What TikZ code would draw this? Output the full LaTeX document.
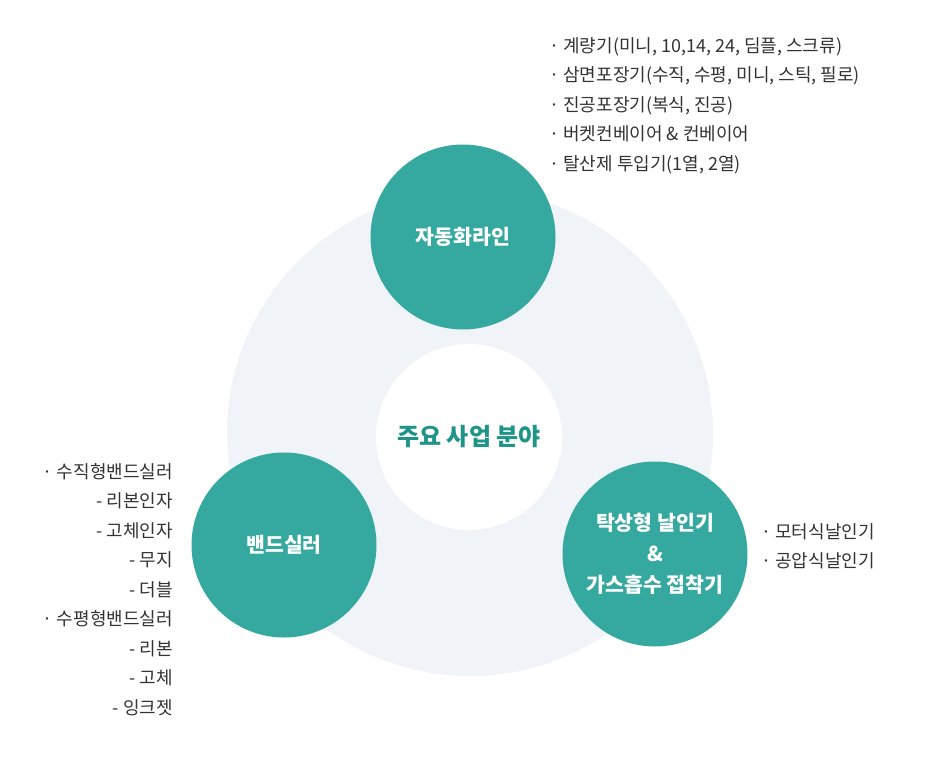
\documentclass[tikz,border=0pt]{standalone}
\usepackage{fontspec}
\setmainfont{Noto Sans CJK KR}
\usetikzlibrary{positioning}

\definecolor{fieldteal}{HTML}{35A9A0}
\definecolor{ringbg}{HTML}{F0F3F8}
\definecolor{titleteal}{HTML}{1E9488}
\definecolor{listgray}{HTML}{333333}

\begin{document}
\begin{tikzpicture}[x=1pt, y=-1pt,
    field/.style={circle, fill=fieldteal, minimum size=185pt, inner sep=0pt,
      text=white, align=center, font=\fontsize{20.5}{31}\selectfont\bfseries},
    itemlist/.style={inner sep=0pt, text=listgray, font=\fontsize{18}{29.5}\selectfont}]
    \useasboundingbox (0,0) rectangle (950,765);

    \node (ring) [circle, fill=ringbg, minimum size=486pt] at (470,433) {};
    \node (core) [circle, fill=white, minimum size=186pt, text=titleteal,
      font=\fontsize{24}{28}\selectfont\bfseries] at (469,437) {주요 사업 분야};

    \node (auto) [field] at (463,237) {자동화라인};
    \node (band) [field] at (284,545) {밴드실러};
    \node (stamp) [field] at (655,554) {탁상형 날인기\\\&\\가스흡수 접착기};

    \node (autolist) [itemlist, anchor=north west, align=left] at (549,37)
      {· 계량기(미니, 10,14, 24, 딤플, 스크류)\\
       · 삼면포장기(수직, 수평, 미니, 스틱, 필로)\\
       · 진공포장기(복식, 진공)\\
       · 버켓컨베이어 \& 컨베이어\\
       · 탈산제 투입기(1열, 2열)};

    \node (bandlist) [itemlist, anchor=north east, align=right] at (173,463)
      {· 수직형밴드실러\\
       - 리본인자\\
       - 고체인자\\
       - 무지\\
       - 더블\\
       · 수평형밴드실러\\
       - 리본\\
       - 고체\\
       - 잉크젯};

    \node (stamplist) [itemlist, anchor=north west, align=left] at (761,523)
      {· 모터식날인기\\
       · 공압식날인기};
\end{tikzpicture}
\end{document}
